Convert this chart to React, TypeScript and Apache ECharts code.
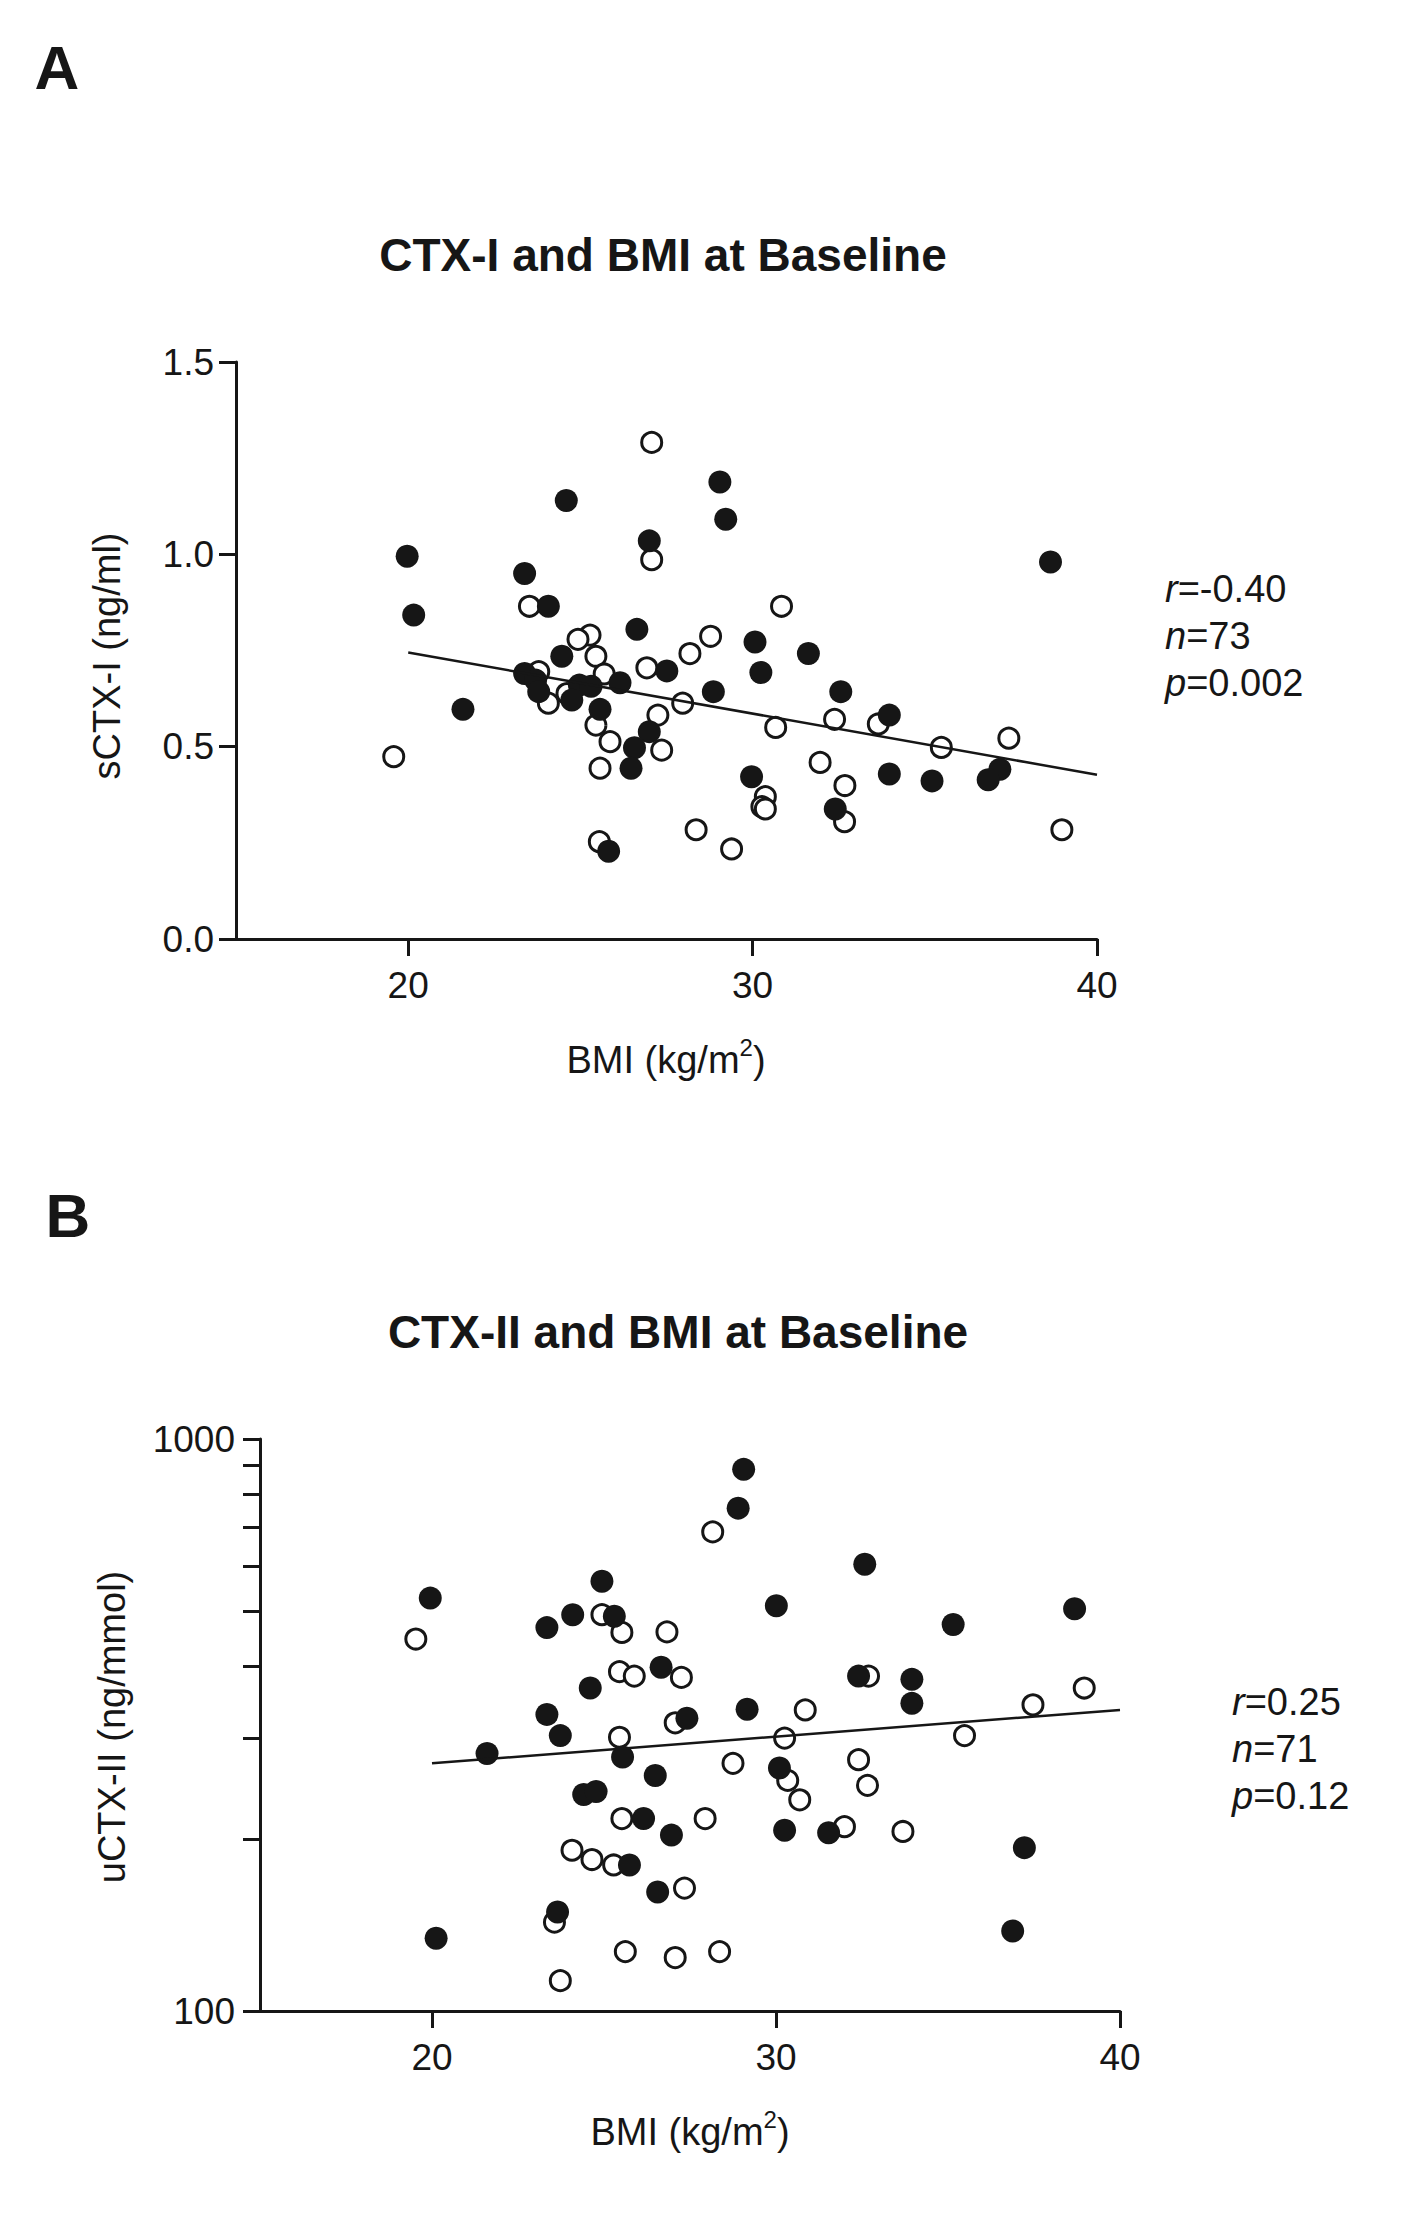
import { useEffect, useRef } from "react";
import * as echarts from "echarts";

// BMI (kg/m2), sCTX-I (ng/ml)
const ctx1Open: [number, number][] = [
  [27.07, 1.291], [27.07, 0.986], [23.52, 0.865], [25.28, 0.79], [24.93, 0.779],
  [25.45, 0.735], [26.93, 0.705], [23.79, 0.695], [25.69, 0.689], [24.61, 0.638],
  [24.07, 0.613], [27.97, 0.613], [27.25, 0.582], [25.45, 0.556], [25.86, 0.513],
  [27.36, 0.491], [19.58, 0.474], [25.57, 0.444], [25.55, 0.253], [30.84, 0.865],
  [28.78, 0.787], [28.18, 0.742], [33.65, 0.559], [32.38, 0.571], [30.67, 0.55],
  [35.48, 0.498], [37.44, 0.522], [31.96, 0.459], [32.68, 0.399], [30.37, 0.37],
  [30.27, 0.344], [30.37, 0.338], [32.67, 0.305], [28.36, 0.284], [38.98, 0.284],
  [29.39, 0.234],
];
const ctx1Filled: [number, number][] = [
  [24.59, 1.14], [19.97, 0.995], [27.0, 1.035], [23.38, 0.95], [24.07, 0.865],
  [20.16, 0.842], [26.64, 0.805], [24.46, 0.735], [27.51, 0.697], [23.38, 0.69],
  [23.7, 0.673], [26.15, 0.666], [24.97, 0.66], [25.31, 0.657], [23.79, 0.643],
  [24.75, 0.621], [25.57, 0.597], [27.0, 0.539], [26.57, 0.497], [26.47, 0.444],
  [21.59, 0.597], [25.82, 0.228], [29.05, 1.188], [29.22, 1.091], [38.65, 0.98],
  [30.07, 0.772], [31.62, 0.742], [30.24, 0.693], [28.86, 0.643], [32.56, 0.643],
  [33.97, 0.582], [29.97, 0.422], [33.97, 0.429], [35.21, 0.411], [37.18, 0.441],
  [36.84, 0.414], [32.4, 0.338],
];
const ctx1Fit: [number, number][] = [[20, 0.745], [40, 0.427]];

// BMI (kg/m2), uCTX-II (ng/mmol)
const ctx2Open: [number, number][] = [
  [19.53, 447], [24.94, 493], [25.52, 459], [26.83, 460], [25.45, 392],
  [25.88, 385], [27.25, 383], [27.07, 319], [25.45, 301], [25.52, 217],
  [27.94, 217], [24.07, 191], [24.65, 184], [25.28, 180], [27.34, 164],
  [23.56, 143], [25.62, 127], [27.07, 124], [23.73, 113], [28.16, 688],
  [32.69, 385], [38.96, 367], [37.47, 343], [30.85, 336], [30.25, 300],
  [35.48, 303], [28.75, 271], [30.34, 253], [32.4, 275], [32.66, 248],
  [30.69, 234], [31.99, 210], [33.69, 206], [28.36, 127],
];
const ctx2Filled: [number, number][] = [
  [24.94, 564], [19.95, 527], [24.09, 493], [25.3, 490], [23.34, 468],
  [26.66, 399], [24.6, 367], [23.34, 330], [23.73, 303], [27.41, 325],
  [21.6, 282], [25.54, 278], [26.49, 258], [24.41, 239], [24.77, 242],
  [26.15, 217], [26.96, 203], [25.74, 180], [26.56, 161.5], [23.65, 149],
  [20.12, 134], [29.06, 885], [28.9, 757], [32.58, 604], [30.01, 511],
  [35.15, 474], [38.68, 505], [32.4, 385], [33.95, 380], [33.95, 345],
  [29.16, 337], [30.1, 266], [30.25, 207], [31.53, 205], [37.22, 193],
  [36.88, 138],
];
const ctx2Fit: [number, number][] = [[20, 271], [40, 336]];

const bmiTicks = [20, 30, 40];
const ctx2Ticks = [100, 200, 300, 400, 500, 600, 700, 800, 900, 1000];
const ctx2Labels = [100, 1000];
const stats1 = ["{i|r}=-0.40", "{i|n}=73", "{i|p}=0.002"];
const stats2 = ["{i|r}=0.25", "{i|n}=71", "{i|p}=0.12"];

const INK = "#161616";
const FONT = "'Liberation Sans', Arial, Helvetica, sans-serif";

const toLog = (pts: [number, number][]) => pts.map(([x, y]) => [x, Math.log10(y)]);

function xAxisFor(gridIndex: number) {
  return {
    type: "value",
    gridIndex,
    min: 15,
    max: 40,
    axisLine: { lineStyle: { color: INK, width: 3 } },
    axisTick: { length: 17, lineStyle: { color: INK, width: 3 }, customValues: bmiTicks },
    axisLabel: { customValues: bmiTicks, margin: 28, fontSize: 37, color: INK, fontFamily: FONT },
    splitLine: { show: false },
  };
}

function groupSeries(idx: number, open: number[][], filled: number[][], fit: number[][]) {
  return [
    {
      type: "line",
      xAxisIndex: idx,
      yAxisIndex: idx,
      data: fit,
      showSymbol: false,
      symbol: "none",
      lineStyle: { color: INK, width: 2.5 },
    },
    {
      type: "scatter",
      xAxisIndex: idx,
      yAxisIndex: idx,
      data: open,
      symbol: "circle",
      symbolSize: 20,
      itemStyle: { color: "#ffffff", borderColor: INK, borderWidth: 3, opacity: 1 },
    },
    {
      type: "scatter",
      xAxisIndex: idx,
      yAxisIndex: idx,
      data: filled,
      symbol: "circle",
      symbolSize: 23,
      itemStyle: { color: INK, opacity: 1 },
    },
  ];
}

function label(text: string, x: number, y: number, fontSize: number, extra: any = {}) {
  return {
    type: "text",
    x,
    y,
    ...extra,
    style: {
      text,
      fontSize,
      fontFamily: FONT,
      fill: INK,
      align: "center",
      verticalAlign: "middle",
      ...(extra.style || {}),
    },
  };
}

function statsBlock(lines: string[], x: number, y0: number) {
  return lines.map((t, i) => ({
    type: "text",
    x,
    y: y0 + i * 47,
    style: {
      text: t,
      fontSize: 38,
      fontFamily: FONT,
      fill: INK,
      align: "left",
      verticalAlign: "middle",
      rich: { i: { fontStyle: "italic", fontSize: 38, fontFamily: FONT, fill: INK } },
    },
  }));
}

function bmiName(x: number, y: number) {
  return {
    type: "text",
    x,
    y,
    style: {
      text: "BMI (kg/m{sup|2})",
      fontSize: 38,
      fontFamily: FONT,
      fill: INK,
      align: "center",
      verticalAlign: "middle",
      rich: {
        sup: { fontSize: 24, fontFamily: FONT, fill: INK, verticalAlign: "top", lineHeight: 50 },
      },
      lineHeight: 50,
    },
  };
}

export default function App() {
  const ref = useRef<HTMLDivElement | null>(null);

  useEffect(() => {
    if (!ref.current) return;
    const chart = echarts.init(ref.current, null, { renderer: "svg" });

    const option: any = {
      animation: false,
      backgroundColor: "#ffffff",
      grid: [
        { left: 236, top: 362, width: 861, height: 577 },
        { left: 260, top: 1439, width: 860, height: 572 },
      ],
      xAxis: [xAxisFor(0), xAxisFor(1)],
      yAxis: [
        {
          type: "value",
          gridIndex: 0,
          min: 0,
          max: 1.5,
          interval: 0.5,
          axisLine: { show: true, lineStyle: { color: INK, width: 3 } },
          axisTick: { show: true, length: 17, lineStyle: { color: INK, width: 3 } },
          axisLabel: {
            margin: 22,
            fontSize: 37,
            color: INK,
            fontFamily: FONT,
            formatter: (v: number) => v.toFixed(1),
          },
          splitLine: { show: false },
        },
        {
          type: "value",
          gridIndex: 1,
          min: 2,
          max: 3,
          axisLine: { show: true, lineStyle: { color: INK, width: 3 } },
          axisTick: {
            show: true,
            length: 17,
            lineStyle: { color: INK, width: 3 },
            customValues: ctx2Ticks.map((v) => Math.log10(v)),
          },
          axisLabel: {
            customValues: ctx2Labels.map((v) => Math.log10(v)),
            margin: 25,
            fontSize: 37,
            color: INK,
            fontFamily: FONT,
            formatter: (v: number) => String(Math.round(Math.pow(10, v))),
          },
          splitLine: { show: false },
        },
      ],
      series: [
        ...groupSeries(0, ctx1Open, ctx1Filled, ctx1Fit),
        ...groupSeries(1, toLog(ctx2Open), toLog(ctx2Filled), toLog(ctx2Fit)),
      ],
      graphic: [
        label("A", 57, 67, 62, { style: { fontWeight: "bold" } }),
        label("B", 68, 1215, 62, { style: { fontWeight: "bold" } }),
        label("CTX-I and BMI at Baseline", 663, 255, 46, { style: { fontWeight: "bold" } }),
        label("CTX-II and BMI at Baseline", 678, 1332, 46, { style: { fontWeight: "bold" } }),
        label("sCTX-I (ng/ml)", 107, 656, 38, { rotation: Math.PI / 2 }),
        label("uCTX-II (ng/mmol)", 112, 1727, 38, { rotation: Math.PI / 2 }),
        bmiName(666, 1060),
        bmiName(690, 2132),
        ...statsBlock(stats1, 1165, 589),
        ...statsBlock(stats2, 1232, 1702),
      ],
    };

    chart.setOption(option);
    return () => {
      chart.dispose();
    };
  }, []);

  return (
    <div
      ref={ref}
      style={{ position: "absolute", left: 0, top: 0, width: 1416, height: 2224, background: "#fff" }}
    />
  );
}
